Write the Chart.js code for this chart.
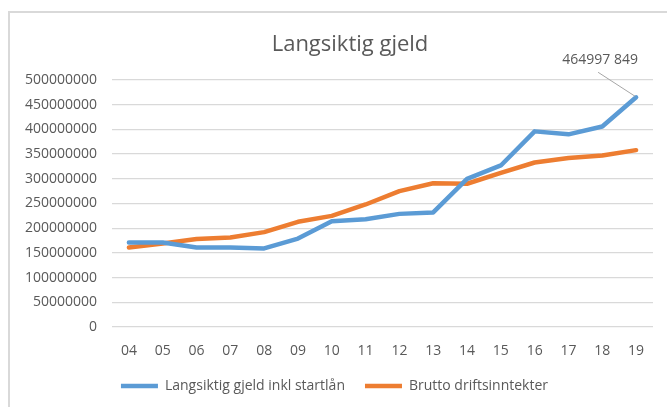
<!DOCTYPE html>
<html lang="en">

<head>
    <meta charset="UTF-8">
    <title>Langsiktig gjeld</title>
    <script src="https://cdn.jsdelivr.net/npm/chart.js"></script>
    <style>
        html, body {
            margin: 0;
            padding: 0;
            background: #fff;
        }

        #wrap {
            position: relative;
            width: 667px;
            height: 407px;
            overflow: hidden;
        }

        #frame {
            position: absolute;
            left: 8px;
            top: 11px;
            width: 700px;
            height: 420px;
            border-left: 2px solid #d9d9d9;
            border-top: 2px solid #d9d9d9;
            pointer-events: none;
        }
    </style>
</head>

<body>
    <div id="wrap">
        <canvas id="gjeldChart" width="667" height="407"></canvas>
        <div id="frame"></div>
    </div>

    <script>
        // data
        var years = ['04', '05', '06', '07', '08', '09', '10', '11', '12', '13', '14', '15', '16', '17', '18', '19'];
        var gjeld = [171000000, 171000000, 161000000, 161000000, 159000000, 179000000, 214000000, 218000000,
            229000000, 232000000, 300000000, 327000000, 396000000, 390000000, 406000000, 464997849];
        var inntekter = [161000000, 169000000, 178000000, 181000000, 192000000, 213000000, 225000000, 248000000,
            275000000, 291000000, 290000000, 312000000, 333000000, 342000000, 347000000, 358000000];
        var yMax = 500000000;
        var yStep = 50000000;

        var textColor = '#595959';
        var fontName = "'Open Sans', sans-serif";

        // title, drawn a bit right of canvas centre like the original
        var titlePlugin = {
            id: 'titleText',
            afterDraw: function (chart) {
                var ctx = chart.ctx;
                ctx.save();
                ctx.fillStyle = textColor;
                ctx.font = '22px ' + fontName;
                ctx.textAlign = 'center';
                ctx.textBaseline = 'middle';
                ctx.fillText('Langsiktig gjeld', 350, 45);
                ctx.restore();
            }
        };

        // label on the last blue point with its leader line
        var lastLabel = {
            id: 'lastLabel',
            afterDatasetsDraw: function (chart) {
                var meta = chart.getDatasetMeta(0);
                var i = gjeld.length - 1;
                var pt = meta.data[i];
                var txt = String(gjeld[i]).replace(/(\d{3})$/, ' $1');
                var ctx = chart.ctx;
                ctx.save();
                ctx.strokeStyle = '#a6a6a6';
                ctx.lineWidth = 1;
                ctx.beginPath();
                ctx.moveTo(pt.x - 38, pt.y - 25);
                ctx.lineTo(pt.x - 1, pt.y - 1);
                ctx.stroke();
                ctx.fillStyle = textColor;
                ctx.font = '14px ' + fontName;
                ctx.textAlign = 'center';
                ctx.textBaseline = 'middle';
                ctx.fillText(txt, pt.x - 36, pt.y - 37);
                ctx.restore();
            }
        };

        // nudge legend so it sits where excel put it
        var legendShift = {
            id: 'legendShift',
            afterLayout: function (chart) {
                chart.legend.left += 8;
                chart.legend.right += 8;
            }
        };

        var gjeldChart = new Chart(document.getElementById('gjeldChart'), {
            type: 'line',
            data: {
                labels: years,
                datasets: [{
                    label: 'Langsiktig gjeld inkl startlån',
                    data: gjeld,
                    borderColor: '#5B9BD5',
                    backgroundColor: '#5B9BD5',
                    borderWidth: 4.5,
                    pointRadius: 0,
                    tension: 0,
                    borderJoinStyle: 'round',
                    borderCapStyle: 'round'
                }, {
                    label: 'Brutto driftsinntekter',
                    data: inntekter,
                    borderColor: '#ED7D31',
                    backgroundColor: '#ED7D31',
                    borderWidth: 4.5,
                    pointRadius: 0,
                    tension: 0,
                    borderJoinStyle: 'round',
                    borderCapStyle: 'round'
                }]
            },
            options: {
                responsive: false,
                animation: false,
                layout: {
                    padding: { top: 80, right: 14, left: 0, bottom: 4 }
                },
                scales: {
                    x: {
                        offset: true,
                        grid: { display: false, drawTicks: false },
                        border: { display: false },
                        ticks: {
                            color: textColor,
                            font: { family: fontName, size: 14 },
                            padding: 16,
                            maxRotation: 0
                        },
                        afterFit: function (scale) { scale.height = 32; }
                    },
                    y: {
                        min: 0,
                        max: yMax,
                        grid: { color: '#d9d9d9', lineWidth: 1.3, drawTicks: false },
                        border: { display: false },
                        ticks: {
                            stepSize: yStep,
                            color: textColor,
                            font: { family: fontName, size: 14 },
                            padding: 15,
                            callback: function (v) { return String(v); }
                        },
                        afterFit: function (scale) { scale.width = 112; }
                    }
                },
                plugins: {
                    title: { display: false },
                    tooltip: { enabled: false },
                    legend: {
                        position: 'bottom',
                        labels: {
                            color: textColor,
                            font: { family: fontName, size: 14 },
                            usePointStyle: true,
                            pointStyle: 'line',
                            pointStyleWidth: 37,
                            boxHeight: 4,
                            padding: 20
                        }
                    }
                }
            },
            plugins: [titlePlugin, lastLabel, legendShift]
        });
    </script>
</body>

</html>
